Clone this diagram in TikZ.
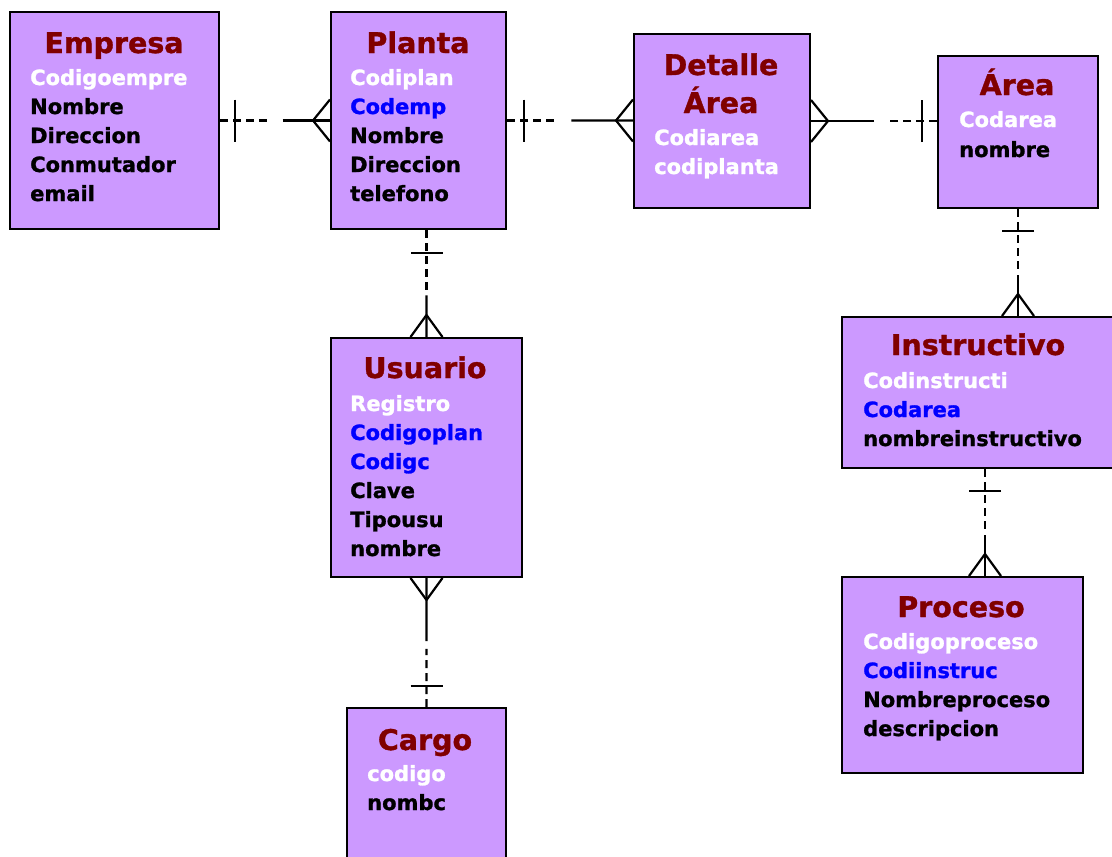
\documentclass[tikz,border=0pt]{standalone}
\usepackage{fontspec}
\setmainfont{DejaVu Sans}
\newfontfamily\erfont{DejaVu Sans Bold}[FakeBold=1.2]
\usetikzlibrary{calc}

\definecolor{boxfill}{RGB}{204,153,255}
\definecolor{titlered}{RGB}{128,0,0}
\definecolor{keyblue}{RGB}{0,0,255}

\tikzset{
  entity/.style={draw=black, fill=boxfill, line width=2pt, inner sep=0pt, anchor=north west},
  etitle/.style={anchor=base, inner sep=0pt, text=titlered, font=\erfont\fontsize{28.5}{30}\selectfont},
  attr/.style={anchor=base west, inner sep=0pt, font=\erfont\fontsize{21}{24}\selectfont},
  pk/.style={attr, text=white},
  fk/.style={attr, text=keyblue},
  plain/.style={attr, text=black},
  link/.style={line width=2.2pt, line join=round},
  dashlink/.style={link, dash pattern=on 8pt off 5pt},
}

% one-to-many relationship: #1 "one" end, #2 "many" end,
% #3 end of dashed part, #4 start of solid part (fractions),
% #5 bar distance, #6 bar half length, #7 crow's foot length, #8 crow's foot half width
\newcommand\erlink[8]{%
  \draw[dashlink] (#1) -- ($(#1)!#3!(#2)$);
  \draw[link] ($(#1)!#4!(#2)$) -- (#2);
  \coordinate (barc) at ($(#1)!#5!(#2)$);
  \draw[link] ($(barc)!#6!90:(#2)$) -- ($(barc)!#6!-90:(#2)$);
  \coordinate (crowc) at ($(#2)!#7!(#1)$);
  \draw[link] ($(#2)!#8!90:(#1)$) -- (crowc) -- ($(#2)!#8!-90:(#1)$);
}

\begin{document}
\begin{tikzpicture}[x=1pt, y=-1pt]
  \useasboundingbox (0,0) rectangle (1112,857);
  \clip (0,0) rectangle (1112,857);

  % entity boxes
  \node[entity, minimum width=209pt, minimum height=217pt] (empresa) at (9,11) {};
  \node[entity, minimum width=175pt, minimum height=217pt] (planta) at (330,11) {};
  \node[entity, minimum width=176pt, minimum height=174pt] (detalle) at (633,33) {};
  \node[entity, minimum width=160pt, minimum height=152pt] (area) at (937,55) {};
  \node[entity, minimum width=290pt, minimum height=151pt] (instr) at (841,316) {};
  \node[entity, minimum width=241pt, minimum height=196pt] (proceso) at (841,576) {};
  \node[entity, minimum width=191pt, minimum height=239pt] (usuario) at (330,337) {};
  \node[entity, minimum width=159pt, minimum height=180pt] (cargo) at (346,707) {};

  % Empresa
  \node[etitle] (empresa-t) at (114,53) {Empresa};
  \node[pk]    (empresa-1) at (30,85)  {Codigoempre};
  \node[plain] (empresa-2) at (30,114) {Nombre};
  \node[plain] (empresa-3) at (30,143) {Direccion};
  \node[plain] (empresa-4) at (30,172) {Conmutador};
  \node[plain] (empresa-5) at (30,201) {email};

  % Planta
  \node[etitle] (planta-t) at (418,53) {Planta};
  \node[pk]    (planta-1) at (350,85)  {Codiplan};
  \node[fk]    (planta-2) at (350,114) {Codemp};
  \node[plain] (planta-3) at (350,143) {Nombre};
  \node[plain] (planta-4) at (350,172) {Direccion};
  \node[plain] (planta-5) at (350,201) {telefono};

  % Detalle Área
  \node[etitle] (detalle-t1) at (721,75)  {Detalle};
  \node[etitle] (detalle-t2) at (721,113) {Área};
  \node[pk] (detalle-1) at (654,145) {Codiarea};
  \node[pk] (detalle-2) at (654,174) {codiplanta};

  % Área
  \node[etitle] (area-t) at (1017,95) {Área};
  \node[pk]    (area-1) at (959,127) {Codarea};
  \node[plain] (area-2) at (959,157) {nombre};

  % Instructivo
  \node[etitle] (instr-t) at (978,355) {Instructivo};
  \node[pk]    (instr-1) at (863,388) {Codinstructi};
  \node[fk]    (instr-2) at (863,417) {Codarea};
  \node[plain] (instr-3) at (863,446) {nombreinstructivo};

  % Proceso
  \node[etitle] (proceso-t) at (961,617) {Proceso};
  \node[pk]    (proceso-1) at (863,649) {Codigoproceso};
  \node[fk]    (proceso-2) at (863,678) {Codiinstruc};
  \node[plain] (proceso-3) at (863,707) {Nombreproceso};
  \node[plain] (proceso-4) at (863,736) {descripcion};

  % Usuario
  \node[etitle] (usuario-t) at (425,378) {Usuario};
  \node[pk]    (usuario-1) at (350,411) {Registro};
  \node[fk]    (usuario-2) at (350,440) {Codigoplan};
  \node[fk]    (usuario-3) at (350,469) {Codigc};
  \node[plain] (usuario-4) at (350,498) {Clave};
  \node[plain] (usuario-5) at (350,527) {Tipousu};
  \node[plain] (usuario-6) at (350,556) {nombre};

  % Cargo
  \node[etitle] (cargo-t) at (425,750) {Cargo};
  \node[pk]    (cargo-1) at (367,781) {codigo};
  \node[plain] (cargo-2) at (367,810) {nombc};

  % relationship end points
  \coordinate (r1a) at (empresa.east);
  \coordinate (r1b) at (empresa.east -| planta.west);
  \coordinate (r2a) at (planta.east);
  \coordinate (r2b) at (planta.east -| detalle.west);
  \coordinate (r3a) at (detalle.east -| area.west);
  \coordinate (r3b) at (detalle.east);
  \coordinate (r4a) at (usuario.north |- planta.south);
  \coordinate (r4b) at (usuario.north);
  \coordinate (r5a) at (cargo.north);
  \coordinate (r5b) at (cargo.north |- usuario.south);
  \coordinate (r6a) at (area.south);
  \coordinate (r6b) at (area.south |- instr.north);
  \coordinate (r7a) at ($(instr.south west)+(144,0)$);
  \coordinate (r7b) at (r7a |- proceso.north);

  % relationships
  \erlink{r1a}{r1b}{0.43}{0.57}{15pt}{21pt}{17pt}{21pt}
  \erlink{r2a}{r2b}{0.375}{0.51}{17pt}{21pt}{17pt}{21pt}
  \erlink{r3a}{r3b}{0.37}{0.5}{15pt}{21pt}{17pt}{21pt}
  \erlink{r4a}{r4b}{0.59}{0.61}{23pt}{16pt}{22pt}{16pt}
  \erlink{r5a}{r5b}{0.45}{0.51}{21pt}{16pt}{22pt}{16pt}
  \erlink{r6a}{r6b}{0.6}{0.62}{22pt}{16pt}{22pt}{16pt}
  \erlink{r7a}{r7b}{0.6}{0.62}{22pt}{16pt}{22pt}{16pt}
\end{tikzpicture}
\end{document}
